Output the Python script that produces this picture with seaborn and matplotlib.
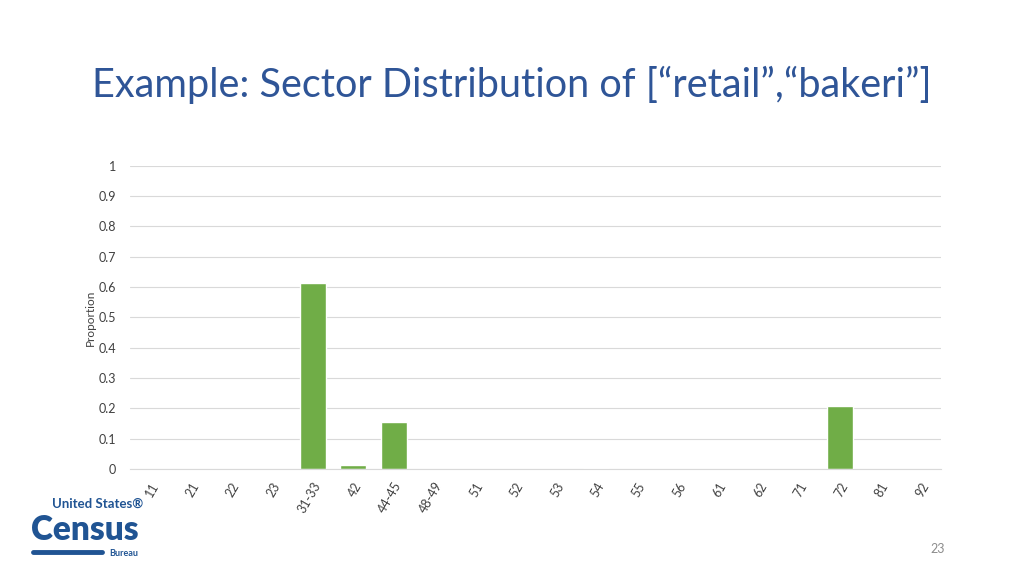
import pandas as pd
import seaborn as sns
import matplotlib.pyplot as plt

sectors = ["11", "21", "22", "23", "31-33", "42", "44-45", "48-49", "51", "52",
           "53", "54", "55", "56", "61", "62", "71", "72", "81", "92"]
proportion = [0, 0, 0, 0, 0.614, 0.012, 0.155, 0, 0, 0,
              0, 0.002, 0, 0, 0, 0, 0, 0.208, 0, 0]

df = pd.DataFrame({"Sector": sectors, "Proportion": proportion})

sns.set_style("white")
plt.rcParams["font.family"] = ["Lato", "DejaVu Sans"]

fig = plt.figure(figsize=(10.24, 5.76), dpi=100)
ax = fig.add_axes([0.127, 0.186, 0.792, 0.526])

sns.barplot(x="Sector", y="Proportion", data=df, color="#70AD47",
            width=0.64, saturation=1, ax=ax)

ax.set_ylim(0, 1)
ax.set_yticks([i / 10 for i in range(11)])
ax.set_yticklabels(["0", "0.1", "0.2", "0.3", "0.4", "0.5", "0.6", "0.7", "0.8", "0.9", "1"])
ax.set_xlim(-0.5, len(sectors) - 0.5)
ax.yaxis.grid(True, color="#D9D9D9", linewidth=0.8)
ax.set_axisbelow(True)
for s in ["top", "right", "left"]:
    ax.spines[s].set_visible(False)
ax.spines["bottom"].set_color("#D9D9D9")
ax.tick_params(axis="both", length=0, labelsize=9, colors="#404040")
ax.tick_params(axis="y", pad=10)
ax.tick_params(axis="x", pad=8)
plt.setp(ax.get_xticklabels(), rotation=60, ha="right", rotation_mode="anchor")
ax.set_xlabel("")
ax.set_ylabel("Proportion", fontsize=8.5, color="#404040", labelpad=2)

fig.text(0.5, 0.852, "Example: Sector Distribution of [\u201cretail\u201d,\u201cbakeri\u201d]",
         ha="center", va="center", fontsize=28.5, color="#2F5597")

# logo
fig.text(0.095, 0.125, "United States\u00ae", ha="center", va="center",
         fontsize=9.5, fontweight="bold", color="#205493")
fig.text(0.083, 0.062, "Census", ha="center", va="baseline",
         fontsize=24, fontweight="heavy", color="#205493")
fig.text(0.121, 0.035, "Bureau", ha="center", va="baseline",
         fontsize=6.5, fontweight="bold", color="#205493")
fig.add_artist(plt.Line2D([0.032, 0.1], [0.042, 0.042], color="#205493",
                          linewidth=3.5, solid_capstyle="round"))

fig.text(0.916, 0.047, "23", ha="center", va="center", fontsize=9, color="#8C8C8C")

fig.savefig("out.png", dpi=100)
